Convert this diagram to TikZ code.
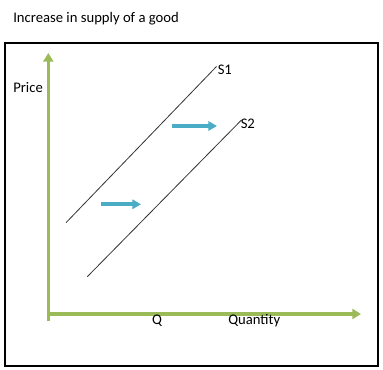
\documentclass[tikz,border=0pt]{standalone}
\usepackage{fontspec}
\setmainfont{Carlito}
\usetikzlibrary{arrows.meta}
\definecolor{axisgreen}{HTML}{9BBB59}
\definecolor{shiftblue}{HTML}{4BACC6}
\begin{document}
\begin{tikzpicture}[x=0.75pt,y=-0.75pt,
  axisline/.style={draw=axisgreen,line width=2.7pt,-{Triangle[length=6.5pt,width=7.5pt]}},
  shiftarrow/.style={draw=shiftblue,line width=2.8pt,-{Triangle[length=6.5pt,width=7pt]}},
  supply/.style={draw=black!80,line width=0.6pt},
  lbl/.style={inner sep=0pt,font=\fontsize{11pt}{13pt}\selectfont}]
\useasboundingbox (0,0) rectangle (383,370);
\fill[white] (0,0) rectangle (383,370);
\node[lbl,anchor=base west] (title) at (13,23) {Increase in supply of a good};
\draw[line width=0.9pt] (5,43) rectangle (378,366);
% axes
\coordinate (origin) at (48.3,321);
\coordinate (ytop) at (48.3,53);
\coordinate (xcorner) at (47,314);
\coordinate (xend) at (361,314);
\draw[axisline] (origin) -- (ytop);
\draw[axisline] (xcorner) -- (xend);
% supply curves
\coordinate (s1a) at (66,222.7);
\coordinate (s1b) at (216.5,66.5);
\coordinate (s2a) at (87.3,276.7);
\coordinate (s2b) at (241.5,120);
\draw[supply] (s1a) -- (s1b);
\draw[supply] (s2a) -- (s2b);
% shift arrows
\coordinate (a1s) at (171.5,126);
\coordinate (a1e) at (217,126);
\coordinate (a2s) at (100.5,204.3);
\coordinate (a2e) at (141,204.3);
\draw[shiftarrow] (a1s) -- (a1e);
\draw[shiftarrow] (a2s) -- (a2e);
% labels
\node[lbl,anchor=base west] (price) at (13,93) {Price};
\node[lbl,anchor=base west] (s1) at (217.5,75) {S1};
\node[lbl,anchor=base west] (s2) at (240.5,128.5) {S2};
\node[lbl,anchor=base] (q) at (157,325) {Q};
\node[lbl,anchor=base west] (quantity) at (228,325) {Quantity};
\end{tikzpicture}
\end{document}
